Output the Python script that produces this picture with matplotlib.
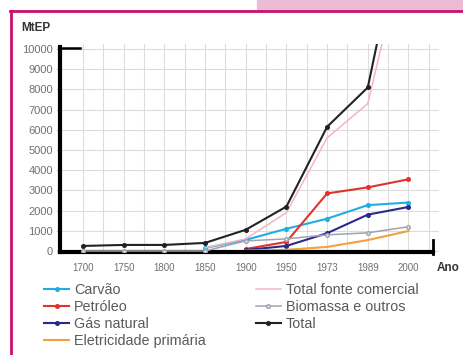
import numpy as np
import matplotlib
matplotlib.use("Agg")
import matplotlib.pyplot as plt
from matplotlib.lines import Line2D
from matplotlib.patches import Rectangle

plt.rcParams['font.family'] = ['Liberation Sans', 'DejaVu Sans']

# dados (MtEP)
anos = ["1700", "1750", "1800", "1850", "1900", "1950", "1973", "1989", "2000"]
carvao = [None, None, None, 150, 550, 1100, 1600, 2270, 2400]
petroleo = [None, None, None, None, 100, 450, 2850, 3150, 3550]
gas_natural = [None, None, None, None, 50, 250, 880, 1800, 2180]
eletricidade = [None, None, None, None, 20, 60, 200, 540, 990]
total_comercial = [None, None, None, 150, 600, 1900, 5600, 7300, 15800]
biomassa = [0, 0, 0, 0, 500, 600, 800, 900, 1200]
total = [250, 300, 300, 400, 1050, 2200, 6150, 8100, 17700]

series = [
    ("Carvão", carvao, "#1eaee3", "o"),
    ("Petróleo", petroleo, "#e2332b", "o"),
    ("Gás natural", gas_natural, "#2b2a86", "o"),
    ("Eletricidade primária", eletricidade, "#f2a23c", None),
    ("Total fonte comercial", total_comercial, "#f4b4c4", None),
    ("Biomassa e outros", biomassa, "#9ea3ad", "o"),
    ("Total", total, "#222222", "o"),
]

fig = plt.figure(figsize=(4.63, 3.55), dpi=100)

# moldura
fig.patches.append(Rectangle((257/463, 1-10/355), 206/463, 10/355, transform=fig.transFigure,
                             color="#ecbcd4", zorder=0))
fig.lines.append(Line2D([10/463, 1], [1-10.5/355, 1-10.5/355], transform=fig.transFigure,
                        color="#c8106e", lw=2))
fig.lines.append(Line2D([11/463, 11/463], [0, 1-10.5/355], transform=fig.transFigure,
                        color="#c8106e", lw=2))

ax = fig.add_axes([60/463, 1-252/355, (439-60)/463, (252-44)/355])
x = np.arange(len(anos))

for nome, vals, cor, mk in series:
    xs = [xi for xi, v in zip(x, vals) if v is not None]
    ys = [v for v in vals if v is not None]
    lw = 1.5 if nome not in ("Total fonte comercial", "Biomassa e outros") else 1.1
    z = 6 if nome == "Biomassa e outros" else 3
    mfc = "#e8e8ec" if nome == "Biomassa e outros" else cor
    ax.plot(xs, ys, color=cor, lw=lw, marker=mk, ms=2.6, mfc=mfc, mec=cor,
            label=nome, zorder=z)

ax.set_xlim(-0.565, 8.75)
ax.set_ylim(-50, 10250)
ax.set_xticks(x)
ax.set_xticklabels(anos)
ax.set_yticks(np.arange(0, 10001, 1000))
ax.set_xticks(np.arange(0, 9, 0.5), minor=True)
ax.grid(True, which="both", axis="x", color="#dcdcdc", lw=0.8, zorder=0)
ax.grid(True, which="major", axis="y", color="#dcdcdc", lw=0.8, zorder=0)
ax.tick_params(axis="x", which="both", length=0, labelsize=7, pad=8)
ax.tick_params(axis="y", length=2, width=0.8, color="#777777", labelsize=8, pad=3)
for lab in ax.get_yticklabels() + ax.get_xticklabels():
    lab.set_color("#707070")
for s in ax.spines.values():
    s.set_visible(False)

# eixos grossos
ax.add_line(Line2D([0, 0], [0, 0.985], transform=ax.transAxes, color="black", lw=3, clip_on=False, zorder=5))
ax.add_line(Line2D([0, 20/379], [0.98, 0.98], transform=ax.transAxes, color="black", lw=1.8, clip_on=False, zorder=5))
ax.add_line(Line2D([0, 0.985], [0, 0], transform=ax.transAxes, color="black", lw=3, clip_on=False, zorder=5))
ax.add_line(Line2D([0.985, 0.985], [-0.01, 0.06], transform=ax.transAxes, color="black", lw=2, clip_on=False, zorder=5))

fig.text(21/463, 1-31/355, "MtEP", fontsize=8.5, fontweight="bold", color="#333333")
fig.text(437/463, 1-271/355, "Ano", fontsize=8.5, fontweight="bold", color="#333333")

h, l = ax.get_legend_handles_labels()
leg = fig.legend(h, l, ncol=2,
                 loc="upper left", bbox_to_anchor=(37/463, 1-276/355), frameon=False,
                 fontsize=10.4, handlelength=1.7, handletextpad=0.35, labelspacing=0.2,
                 columnspacing=3.5, borderpad=0)
for t in leg.get_texts():
    t.set_color("#5a5a5a")

plt.savefig("out.png", dpi=100)
